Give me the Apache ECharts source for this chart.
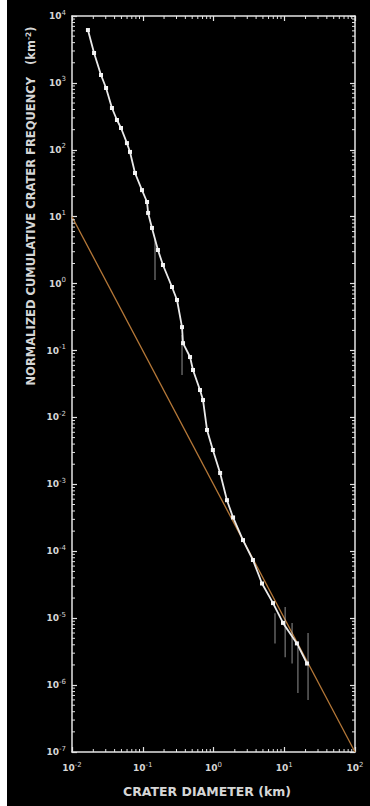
<!DOCTYPE html>
<html><head><meta charset="utf-8">
<script src="https://cdn.jsdelivr.net/npm/echarts@6/dist/echarts.min.js"></script>
<style>
html,body{margin:0;padding:0;background:#fff;}
#c{position:absolute;left:7px;top:0;width:363px;height:806px;background:#000;}
</style></head><body><div id="c"></div>
<script>
// Crater diameter (km) and normalized cumulative frequency (km^-2)
var craterDiameter = [0.0168,0.0205,0.0257,0.0303,0.0367,0.0432,0.0493,0.0598,0.066,0.0777,0.0975,0.115,0.119,0.135,0.164,0.193,0.259,0.305,0.359,0.371,0.466,0.513,0.644,0.711,0.81,0.98,1.24,1.55,1.89,2.61,3.61,4.85,6.94,9.6,15.1,21];
var craterFrequency = [6170,2800,1313,840,422,279,212,126,93,45,25,16.6,11.4,6.8,3.18,1.9,0.89,0.57,0.224,0.129,0.080,0.0512,0.0257,0.0182,0.0065,0.00326,0.00148,5.8e-4,3.2e-4,1.47e-4,7.4e-5,3.3e-5,1.68e-5,8.5e-6,4.2e-6,2.1e-6];
// error bars
var errDiameter = [0.149,0.359,7.4,10.3,12.9,15.6,21.7];
var errHigh = [4.49,0.171,1.19e-5,1.47e-5,8.5e-6,3.7e-6,6e-6];
var errLow = [1.13,0.043,4.2e-6,2.6e-6,2.1e-6,7.6e-7,6e-7];
// reference line (slope -2)
var refLineD = [0.01,100];
var refLineN = [10,1e-7];
// axes
var xMin = 0.01, xMax = 100, yMin = 1e-7, yMax = 1e4;
var xMinorDecades = [-2,-1,0,1];
var yMinorDecades = [-7,-6,-5,-4,-3,-2,-1,0,1,2,3];
var minorMult = [2,3,4,5,6,7,8,9];

var fg = '#e4e4e4', txt = '#d6d6d6';
function expLabel(v){ var e = Math.round(Math.log10(v)); return '{b|10}{e|' + e + '}'; }
var richLab = { b:{fontSize:9, color:txt, fontFamily:'DejaVu Sans', fontWeight:'bold'}, e:{fontSize:7, color:txt, fontFamily:'DejaVu Sans', verticalAlign:'bottom', padding:[0,0,7,0]} };

var xMinor = [], yMinor = [];
xMinorDecades.forEach(function(d){ minorMult.forEach(function(m){ xMinor.push(m*Math.pow(10,d)); }); });
yMinorDecades.forEach(function(d){ minorMult.forEach(function(m){ yMinor.push(m*Math.pow(10,d)); }); });

var chart = echarts.init(document.getElementById('c'), null, {renderer:'svg'});
var axisCommon = {
  type:'log', logBase:10, interval:1,
  axisLine:{show:true, lineStyle:{color:fg, width:1.5}},
  axisTick:{show:true, inside:true, length:5, lineStyle:{color:fg, width:1.2}},
  splitLine:{show:false}, minorTick:{show:false}
};
var option = {
  backgroundColor:'#000',
  animation:false,
  grid:{left:65, right:15, top:16, bottom:54, containLabel:false},
  xAxis:[
    Object.assign({}, axisCommon, {min:xMin, max:xMax, position:'bottom',
      axisLabel:{formatter:expLabel, rich:richLab, margin:9}}),
    Object.assign({}, axisCommon, {min:xMin, max:xMax, position:'top', axisLabel:{show:false}})
  ],
  yAxis:[
    Object.assign({}, axisCommon, {min:yMin, max:yMax, position:'left',
      axisLabel:{formatter:expLabel, rich:richLab, margin:6}}),
    Object.assign({}, axisCommon, {min:yMin, max:yMax, position:'right', axisLabel:{show:false}})
  ],
  graphic:[
    {type:'text', x:24, y:206, rotation:Math.PI/2,
     style:{text:'NORMALIZED CUMULATIVE CRATER FREQUENCY   (km{s|-2})', fill:txt, font:'bold 11.5px "DejaVu Sans"', align:'center', verticalAlign:'middle',
       rich:{s:{fontSize:7.5, fill:txt, fontWeight:'bold', fontFamily:'DejaVu Sans', verticalAlign:'bottom', padding:[0,0,6,0]}}}},
    {type:'text', x:200, y:791,
     style:{text:'CRATER DIAMETER (km)', fill:txt, font:'bold 12.5px "DejaVu Sans"', align:'center', verticalAlign:'middle'}}
  ],
  series:[
    {type:'line', name:'ref', data:refLineD.map(function(d,i){return [d, refLineN[i]];}),
     showSymbol:false, lineStyle:{color:'#b57838', width:1.3}, z:2},
    {type:'custom', name:'err', data:errDiameter.map(function(d,i){return [d, errLow[i], errHigh[i]];}),
     renderItem:function(params, api){
       var a = api.coord([api.value(0), api.value(1)]), b = api.coord([api.value(0), api.value(2)]);
       return {type:'line', shape:{x1:a[0], y1:a[1], x2:b[0], y2:b[1]}, style:{stroke:'rgba(220,220,220,0.55)', lineWidth:1.2}};
     }, z:3},
    {type:'line', name:'data', data:craterDiameter.map(function(d,i){return [d, craterFrequency[i]];}),
     symbol:'rect', symbolSize:4, itemStyle:{color:'#f4f4f4'}, lineStyle:{color:'#eaeaea', width:1.8}, z:4},
    {type:'custom', name:'xminor', data:xMinor.map(function(v){return [v];}),
     renderItem:function(params, api){
       var a = api.coord([api.value(0), yMin]), b = api.coord([api.value(0), yMax]);
       return {type:'group', children:[
         {type:'line', shape:{x1:a[0], y1:a[1], x2:a[0], y2:a[1]-3}, style:{stroke:fg, lineWidth:1}},
         {type:'line', shape:{x1:b[0], y1:b[1], x2:b[0], y2:b[1]+3}, style:{stroke:fg, lineWidth:1}}]};
     }, silent:true, z:5},
    {type:'custom', name:'yminor', data:yMinor.map(function(v){return [xMin, v];}),
     renderItem:function(params, api){
       var a = api.coord([xMin, api.value(1)]), b = api.coord([xMax, api.value(1)]);
       return {type:'group', children:[
         {type:'line', shape:{x1:a[0], y1:a[1], x2:a[0]+3, y2:a[1]}, style:{stroke:fg, lineWidth:1}},
         {type:'line', shape:{x1:b[0], y1:b[1], x2:b[0]-3, y2:b[1]}, style:{stroke:fg, lineWidth:1}}]};
     }, silent:true, z:5}
  ]
};
chart.setOption(option);
</script></body></html>
